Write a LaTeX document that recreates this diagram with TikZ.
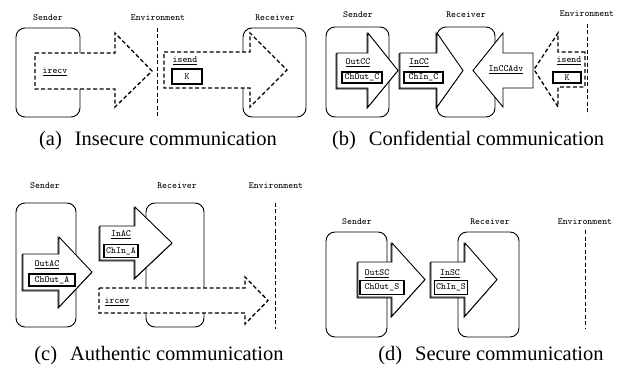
\documentclass[tikz,border=0pt]{standalone}
\usepackage{fontspec}
\setmainfont{Liberation Serif}

% #1 style, #2 tail x, #3 head base x, #4 tip x,
% #5 body top, #6 body bottom, #7 head top, #8 head bottom
\newcommand{\flatarrow}[8]{%
  \draw[#1] (#2,#5) -- (#3,#5) -- (#3,#7) -- (#4,{(#5+#6)/2})
    -- (#3,#8) -- (#3,#6) -- (#2,#6) -- cycle;}
% solid channel arrow with a slight offset shadow
\newcommand{\chanarrow}[7]{%
  \flatarrow{shadowline}{#1}{#2}{#3}{#4}{#5}{#6}{#7}%
  \flatarrow{solidarr}{#1}{#2}{#3}{#4}{#5}{#6}{#7}}

\tikzset{
  lbl/.style={font=\ttfamily\fontsize{9.4}{11}\selectfont, inner sep=0pt},
  party/.style={draw, line width=0.9pt, rounded corners=9pt},
  envline/.style={line width=1pt, dash pattern=on 4pt off 2.5pt},
  dasharr/.style={draw, fill=white, line width=1.3pt, dash pattern=on 4pt off 2.5pt},
  solidarr/.style={draw, fill=white, line width=0.9pt, line join=miter},
  shadowline/.style={draw, line width=1.1pt, xshift=-0.9pt, yshift=-0.9pt},
  chbox/.style={draw, line width=1.5pt, fill=white, inner sep=0pt,
    font=\ttfamily\fontsize{9.4}{11}\selectfont},
  caption/.style={font=\fontsize{20.5}{24}\selectfont, anchor=base, inner sep=0pt},
}

\begin{document}
\begin{tikzpicture}[x=1pt, y=-1pt]
\useasboundingbox (0,0) rectangle (621,366);

% ---------- (a) insecure communication ----------
\node[lbl] (aS) at (48,18) {Sender};
\node[lbl] (aE) at (158,18) {Environment};
\node[lbl] (aR) at (275,18) {Receiver};
\draw[party] (16,28) rectangle (80,117);
\draw[party] (243,28) rectangle (306,117);
\draw[envline] (157,28) -- (157,118);
\flatarrow{dasharr}{35}{115}{152}{53}{89}{33}{107}
\flatarrow{dasharr}{164}{250}{287}{52}{88}{33}{107}
\node[lbl] (airecv) at (55,72) {\underline{irecv}};
\node[lbl] (aisend) at (185,61) {\underline{isend}};
\node[chbox, minimum width=30pt, minimum height=15pt] (aK) at (187,76.5) {K};
\node[caption] (capa) at (158,146) {(a)\hspace{0.63em}Insecure communication};

% ---------- (b) confidential communication ----------
\node[lbl] (bS) at (358,15) {Sender};
\node[lbl] (bR) at (466,15) {Receiver};
\node[lbl] (bE) at (587,14) {Environment};
\draw[party] (326,27) rectangle (389,117);
\draw[party] (437,27) rectangle (495,117);
\draw[envline] (587,24) -- (587,115);
\chanarrow{337}{368}{398}{53}{88}{33}{107}
\chanarrow{400}{437}{463}{53}{88}{33}{107}
\flatarrow{solidarr}{533}{503}{473}{53}{88}{33}{107}
\flatarrow{dasharr}{585}{558}{534}{52}{87}{33}{107}
\node[lbl] (bOut) at (358,63) {\underline{OutCC}};
\node[chbox, minimum width=40pt, minimum height=11pt] (bChOut) at (362,77.5) {ChOut\_C};
\node[lbl] (bIn) at (419,63) {\underline{InCC}};
\node[chbox, minimum width=39pt, minimum height=11pt] (bChIn) at (423.5,77.5) {ChIn\_C};
\node[lbl] (bAdv) at (506,70) {\underline{InCCAdv}};
\node[lbl] (bisend) at (569,61) {\underline{isend}};
\node[chbox, minimum width=28pt, minimum height=11pt] (bK) at (567,77.5) {K};
\node[caption] (capb) at (468,146) {(b)\hspace{0.63em}Confidential communication};

% ---------- (c) authentic communication ----------
\node[lbl] (cS) at (45,186) {Sender};
\node[lbl] (cR) at (177,186) {Receiver};
\node[lbl] (cE) at (276,186) {Environment};
\draw[party] (16,203) rectangle (76,327);
\draw[party] (146,203) rectangle (204,327);
\draw[envline] (275,203) -- (275,329);
\chanarrow{23}{59}{92}{254}{290}{237}{307}
\chanarrow{100}{135}{172}{226}{260}{207}{278}
\flatarrow{dasharr}{99}{245}{268}{288}{313}{277}{324}
\node[lbl] (cOut) at (47,265) {\underline{OutAC}};
\node[chbox, minimum width=46pt, minimum height=12pt] (cChOut) at (52,280) {ChOut\_A};
\node[lbl] (cIn) at (121,235) {\underline{InAC}};
\node[chbox, minimum width=34pt, minimum height=13pt] (cChIn) at (121,251) {ChIn\_A};
\node[lbl] (circev) at (117,302) {\underline{ircev}};
\node[caption] (capc) at (159,360) {(c)\hspace{0.63em}Authentic communication};

% ---------- (d) secure communication ----------
\node[lbl] (dS) at (357,222) {Sender};
\node[lbl] (dR) at (490,222) {Receiver};
\node[lbl] (dE) at (585,222) {Environment};
\draw[party] (326,232) rectangle (387,337);
\draw[party] (458,232) rectangle (519,337);
\draw[envline] (585,230) -- (585,328);
\chanarrow{358}{392}{425}{262}{297}{243}{316}
\chanarrow{431}{465}{497}{262}{297}{243}{316}
\node[lbl] (dOut) at (377,274) {\underline{OutSC}};
\node[chbox, minimum width=44pt, minimum height=14pt] (dChOut) at (382,287.5) {ChOut\_S};
\node[lbl] (dIn) at (450,274) {\underline{InSC}};
\node[chbox, minimum width=33pt, minimum height=14pt] (dChIn) at (451,287.5) {ChIn\_S};
\node[caption] (capd) at (491,360) {(d)\hspace{0.63em}Secure communication};
\end{tikzpicture}
\end{document}
